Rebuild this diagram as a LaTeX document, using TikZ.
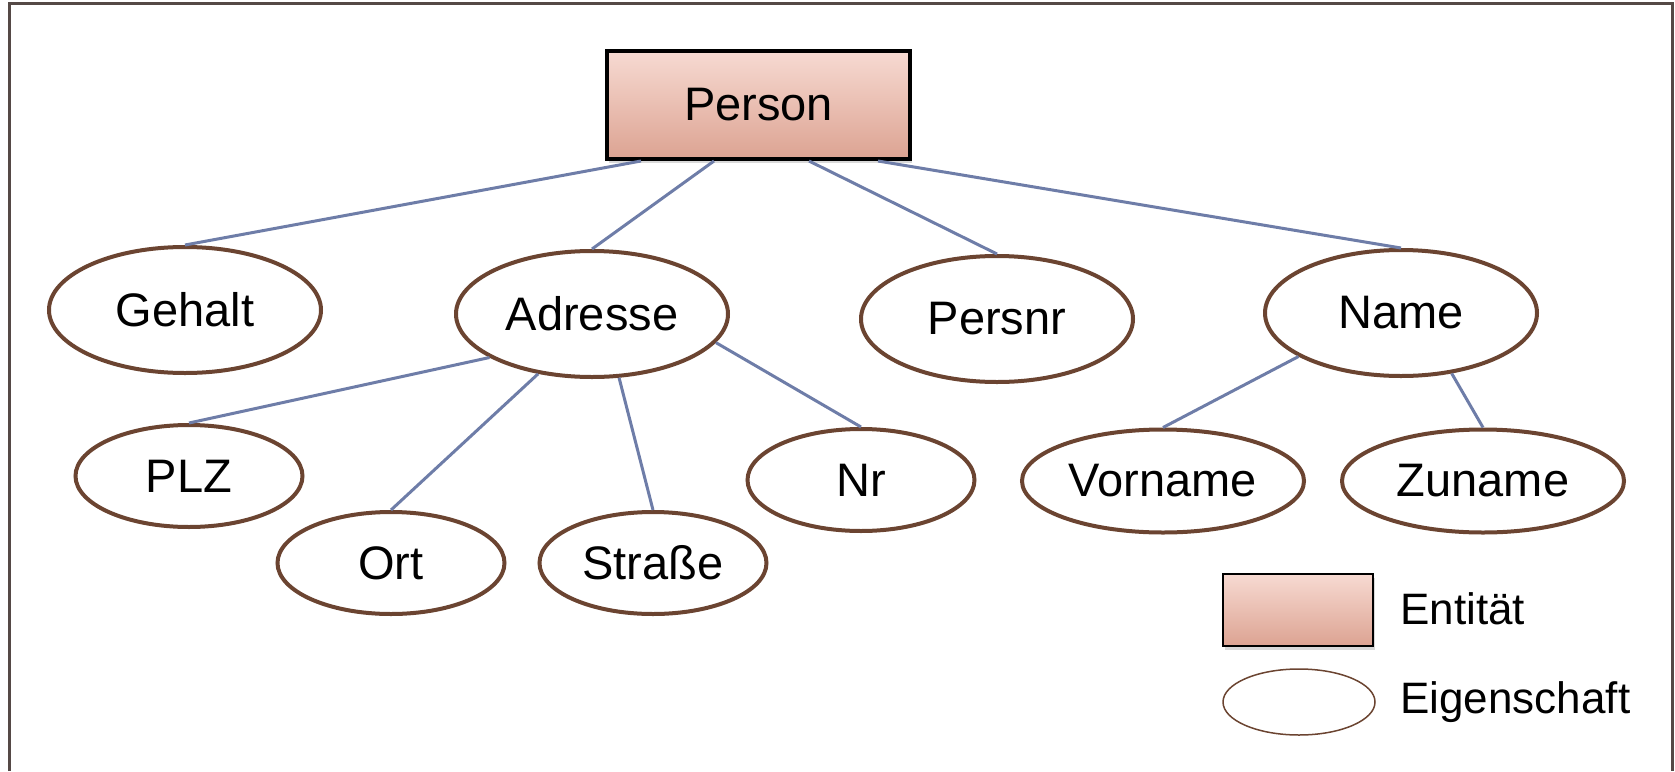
\documentclass[tikz,border=0pt]{standalone}
\usepackage{fontspec}
\setmainfont{Liberation Sans}
\usetikzlibrary{shapes.geometric,shadows}
\definecolor{framecol}{HTML}{554946}
\definecolor{attrline}{HTML}{6B4431}
\definecolor{linkcol}{HTML}{6E7DA8}
\definecolor{enttop}{HTML}{F7DAD2}
\definecolor{entbot}{HTML}{DCA392}
\tikzset{
  entity/.style={draw=black, line width=2pt, rectangle, inner sep=0pt,
    top color=enttop, bottom color=entbot,
    drop shadow={opacity=0.3, shadow xshift=0.8pt, shadow yshift=-2pt},
    font=\fontsize{23.5}{27}\selectfont},
  attr/.style={draw=attrline, line width=2pt, ellipse, inner sep=0pt, fill=white,
    font=\fontsize{23.5}{27}\selectfont},
  bigattr/.style={attr, minimum width=136pt, minimum height=63pt},
  smallattr/.style={attr, minimum width=113.5pt, minimum height=51pt},
  wideattr/.style={attr, minimum width=141pt, minimum height=51.5pt},
  link/.style={draw=linkcol, line width=1.5pt},
  legendtext/.style={anchor=base west, inner sep=0pt, font=\fontsize{22}{26}\selectfont}
}
\begin{document}
\begin{tikzpicture}[x=0.5pt, y=-0.5pt]
\useasboundingbox (0,0) rectangle (1675,771);

% open frame (no bottom edge)
\draw[framecol, line width=1.5pt] (9,771) -- (9,3) -- (1672,3) -- (1672,771);

% entity and its attributes
\node[entity, minimum width=151.5pt, minimum height=54pt] (person) at (758.5,105) {Person};

\node[bigattr] (gehalt)  at (185,310) {Gehalt};
\node[bigattr] (adresse) at (592,314) {Adresse};
\node[bigattr] (persnr)  at (997,319) {Persnr};
\node[bigattr] (name)    at (1401,313) {Name};

\node[smallattr] (plz)     at (189,476) {PLZ};
\node[smallattr] (ort)     at (391,563) {Ort};
\node[smallattr] (strasse) at (653,563) {Straße};
\node[smallattr] (nr)      at (861,480) {Nr};

\node[wideattr] (vorname) at (1163,481) {Vorname};
\node[wideattr] (zuname)  at (1483,481) {Zuname};

% connectors
\draw[link] ([xshift=-58.75pt]person.south) -- (gehalt.north);
\draw[link] ([xshift=-22.25pt]person.south) -- (adresse.north);
\draw[link] ([xshift=25.25pt]person.south) -- (persnr.north);
\draw[link] ([xshift=59.75pt]person.south) -- (name.north);

\draw[link] (adresse.203.5) -- (plz.north);
\draw[link] (adresse.228) -- (ort.north);
\draw[link] (adresse.293) -- (strasse.north);
\draw[link] (adresse.347) -- (nr.north);

\draw[link] (name.203.5) -- (vorname.north);
\draw[link] (name.310) -- (zuname.north);

% legend
\node[entity, line width=1.2pt, minimum width=75pt, minimum height=36pt] (legent) at (1298,610) {};
\node[draw=attrline, line width=0.75pt, ellipse, inner sep=0pt, minimum width=76pt, minimum height=33pt] (legattr) at (1299,702) {};
\node[legendtext] (legenttext) at (1400,624) {Entität};
\node[legendtext] (legattrtext) at (1400,713) {Eigenschaft};
\end{tikzpicture}
\end{document}
